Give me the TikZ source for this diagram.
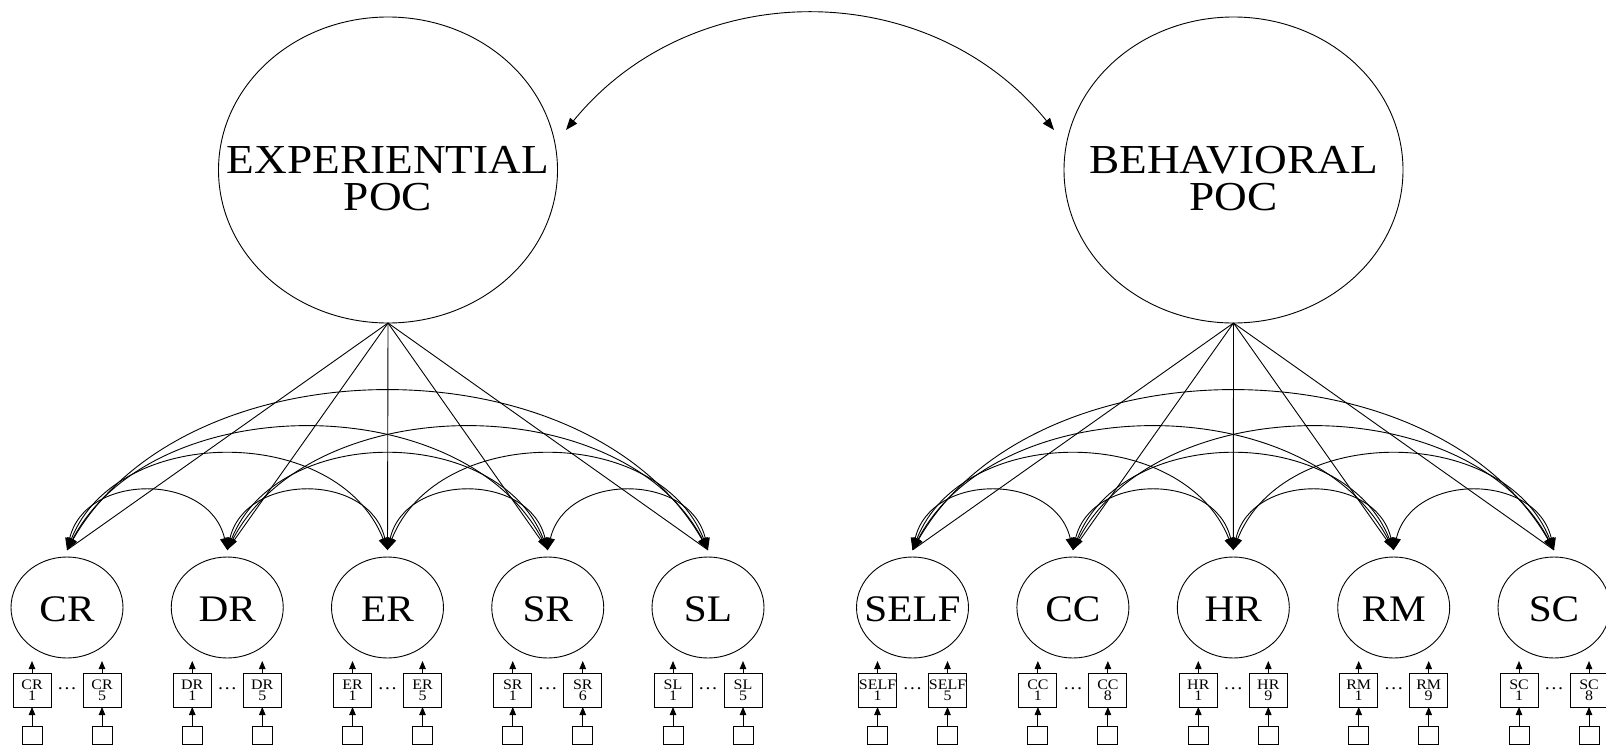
\documentclass[tikz,border=0pt]{standalone}
\usepackage{fontspec}
\setmainfont{Liberation Serif}[FakeStretch=1.1]
\usetikzlibrary{arrows.meta,shapes.geometric}

\tikzset{
  bigtip/.tip={Triangle[length=12pt,width=9pt]},
  smalltip/.tip={Triangle[length=8pt,width=6.5pt]},
  latent/.style={draw, ellipse, inner sep=0pt, outer sep=0pt},
  biglatent/.style={latent, minimum width=339pt, minimum height=306pt},
  factor/.style={latent, minimum width=112pt, minimum height=101pt},
  bigtext/.style={font=\fontsize{41.2}{41.2}\selectfont, inner sep=0pt, anchor=base},
  factext/.style={font=\fontsize{37.5}{37.5}\selectfont, inner sep=0pt, anchor=base},
  itembox/.style={draw, rectangle, minimum width=38pt, minimum height=34pt,
    inner sep=0pt, outer sep=0pt, align=center, font=\fontsize{14.5}{10.8}\selectfont},
  errbox/.style={draw, rectangle, minimum width=20pt, minimum height=18pt,
    inner sep=0pt, outer sep=0pt},
  dotstext/.style={font=\fontsize{18}{18}\selectfont, inner sep=0pt, anchor=base},
  load/.style={-},
  cov/.style={{bigtip}-{bigtip}},
  indarrow/.style={-{smalltip}}
}

\begin{document}
\begin{tikzpicture}[x=1pt, y=-1pt, line width=0.9pt]
  \fill[white] (0,0) rectangle (1606,752);
  \useasboundingbox (0,0) rectangle (1606,752);

  % second-order factors
  \node[biglatent] (EXP) at (388,170) {};
  \node[bigtext] (EXP-t1) at (388,173.3) {EXPERIENTIAL};
  \node[bigtext] (EXP-t2) at (388,210.7) {POC};
  \node[biglatent] (BEH) at (1233.5,170) {};
  \node[bigtext] (BEH-t1) at (1233.5,173.3) {BEHAVIORAL};
  \node[bigtext] (BEH-t2) at (1233.5,210.7) {POC};

  % first-order factors with their indicators and error terms
  \foreach \n/\x/\k in {CR/67/5, DR/227.25/5, ER/387.5/5, SR/547.75/6, SL/708/5,
                         SELF/912.5/5, CC/1072.9/8, HR/1233.3/9, RM/1393.7/9, SC/1554/8} {
    \node[factor] (\n) at (\x,607.5) {};
    \node[factext] (\n-t) at (\x,621.5) {\n};
    \coordinate (\n-tip) at (\x,550);
    \node[itembox] (\n-a) at (\x-35,690) {\n\\1};
    \node[itembox] (\n-b) at (\x+35,690) {\n\\\k};
    \node[dotstext] (\n-d) at (\x,689) {\dots};
    \node[errbox] (\n-ea) at (\x-35,735) {};
    \node[errbox] (\n-eb) at (\x+35,735) {};
    \draw[indarrow] (\n-ea) -- (\n-a);
    \draw[indarrow] (\n-eb) -- (\n-b);
    \draw[indarrow, shorten >=3pt] (\n-a.north) -- (\n-a.north |- \n.south);
    \draw[indarrow, shorten >=3pt] (\n-b.north) -- (\n-b.north |- \n.south);
  }

  % loadings
  \foreach \n in {CR,DR,ER,SR,SL}
    \draw[load] (EXP.south) -- (\n-tip);
  \foreach \n in {SELF,CC,HR,RM,SC}
    \draw[load] (BEH.south) -- (\n-tip);

  % covariances among first-order factors
  \foreach \a/\b/\dx/\dy in {
      CR/DR/18/77.8, DR/ER/18/77.8, ER/SR/18/77.8, SR/SL/18/77.8,
      CR/ER/50/126.7, DR/SR/50/126.7, ER/SL/50/126.7,
      CR/SR/85/162.4, DR/SL/85/162.4,
      CR/SL/120/210.5,
      SELF/CC/18/77.8, CC/HR/18/77.8, HR/RM/18/77.8, RM/SC/18/77.8,
      SELF/HR/50/126.7, CC/RM/50/126.7, HR/SC/50/126.7,
      SELF/RM/85/162.4, CC/SC/85/162.4,
      SELF/SC/120/210.5}
    \draw[cov] (\a-tip) .. controls +(\dx,-\dy) and +(-\dx,-\dy) .. (\b-tip);

  % covariance between second-order factors
  \coordinate (covL) at (566,130);
  \coordinate (covR) at (1054,130);
  \draw[cov] (covL) .. controls +(125.9,-154.7) and +(-125.9,-154.7) .. (covR);
\end{tikzpicture}
\end{document}
